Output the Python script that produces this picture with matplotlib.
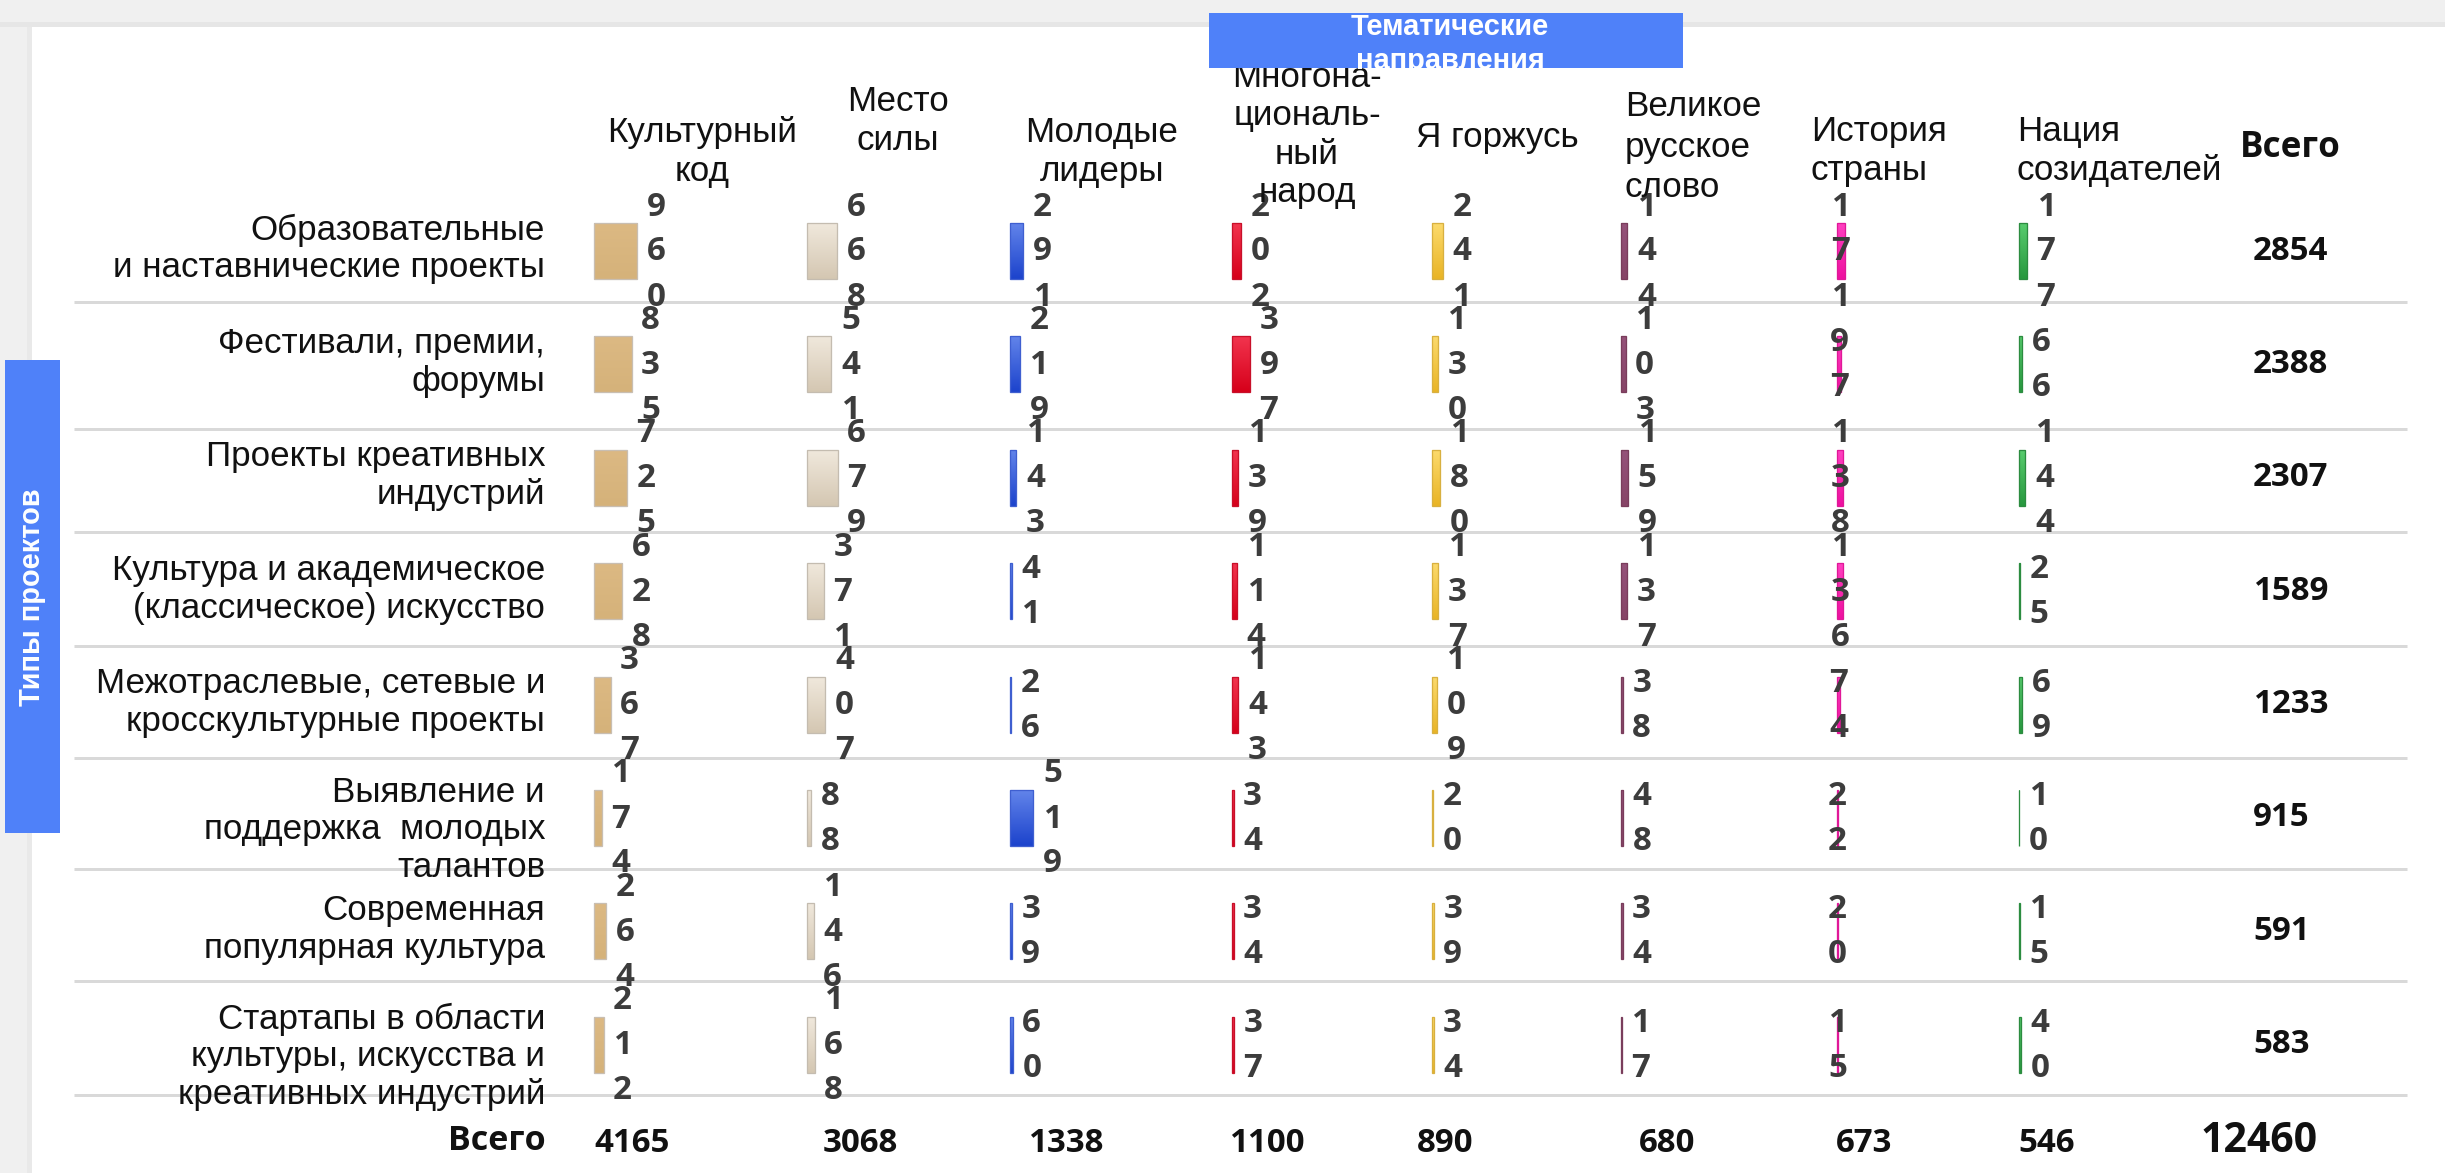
import matplotlib
matplotlib.use("Agg")
import matplotlib.pyplot as plt
import numpy as np
from matplotlib.patches import Rectangle
from matplotlib.colors import LinearSegmentedColormap

# ---------------- data ----------------
themes = ["Культурный\nкод", "Место\nсилы", "Молодые\nлидеры",
          "Многона-\nциональ-\nный\nнарод", "Я горжусь",
          "Великое\nрусское\nслово", "История\nстраны", "Нация\nсозидателей"]
project_types = ["Образовательные\nи наставнические проекты",
                 "Фестивали, премии,\nфорумы",
                 "Проекты креативных\nиндустрий",
                 "Культура и академическое\n(классическое) искусство",
                 "Межотраслевые, сетевые и\nкросскультурные проекты",
                 "Выявление и\nподдержка  молодых\nталантов",
                 "Современная\nпопулярная культура",
                 "Стартапы в области\nкультуры, искусства и\nкреативных индустрий"]
kultura_kod = [960, 835, 725, 628, 367, 174, 264, 212]
mesto_sily = [668, 541, 679, 371, 407, 88, 146, 168]
molodye_lidery = [291, 219, 143, 41, 26, 519, 39, 60]
mnogonac_narod = [202, 397, 139, 114, 143, 34, 34, 37]
ya_gorzhus = [241, 130, 180, 137, 109, 20, 39, 34]
velikoe_slovo = [144, 103, 159, 137, 38, 48, 34, 17]
istoriya_strany = [171, 97, 138, 136, 74, 22, 20, 15]
naciya_sozid = [177, 66, 144, 25, 69, 10, 15, 40]
row_totals = [2854, 2388, 2307, 1589, 1233, 915, 591, 583]
col_totals = [4165, 3068, 1338, 1100, 890, 680, 673, 546]
grand_total = 12460
columns = [kultura_kod, mesto_sily, molodye_lidery, mnogonac_narod,
           ya_gorzhus, velikoe_slovo, istoriya_strany, naciya_sozid]

# ---------------- layout / style ----------------
W, H = 2445, 1173
PT = 0.72  # px -> pt at dpi 100
fig = plt.figure(figsize=(W / 100, H / 100), dpi=100)
fig.patch.set_facecolor("#f0f0f0")
ax = fig.add_axes([0, 0, 1, 1])
ax.axis("off")

row_y0, row_pitch = 251, 113.4
row_y = [row_y0 + i * row_pitch for i in range(len(project_types))]
sep_y = [302, 429, 532, 646, 758, 869, 981, 1095]
col_left = [594, 807, 1010, 1232, 1432, 1621, 1837, 2019]
SCALE = 0.045
BAR_H = 56
grads = [("#dcb983", "#d5b27a"), ("#f0e8dc", "#d4c7b2"), ("#6284ea", "#1c43cc"),
         ("#f2344e", "#d6001a"), ("#fcda6c", "#e9b425"), ("#95527a", "#874567"),
         ("#ff40c0", "#ee10a0"), ("#58cc6e", "#27983e")]
edges = ["#c8beb2", "#c4bcb0", "#3f5fd0", "#c8102a", "#d8b040", "#7a3d5c",
         "#e01898", "#2c8c40"]

LABEL_FONT = ["Liberation Sans", "DejaVu Sans"]
NUM_FONT = ["Open Sans", "DejaVu Sans"]

# panel
ax.add_patch(Rectangle((32, 27), W, H, fc="white", ec="none", zorder=0))
ax.add_patch(Rectangle((0, 22), W, 5, fc="#e6e6e6", ec="none", zorder=0))
ax.add_patch(Rectangle((27, 27), 5, H, fc="#e9e9e9", ec="none", zorder=0))

# separators
for y in sep_y:
    ax.plot([74, 2407], [y, y], color="#d9d9d9", lw=3 * PT, zorder=1,
            solid_capstyle="butt")

grad = np.linspace(0, 1, 64).reshape(-1, 1)
for j, vals in enumerate(columns):
    cmap = LinearSegmentedColormap.from_list(f"g{j}", grads[j])
    widths = np.array(vals) * SCALE
    bars = ax.barh(row_y, widths, left=col_left[j], height=BAR_H,
                   facecolor="none", edgecolor=edges[j], linewidth=1.3 * PT,
                   zorder=4)
    for b, v in zip(bars, vals):
        x0, y0, w, h = b.get_x(), b.get_y(), b.get_width(), b.get_height()
        im = ax.imshow(grad, cmap=cmap, extent=(x0, x0 + w, y0 + h, y0),
                       aspect="auto", origin="upper", zorder=3,
                       interpolation="bilinear")
        im.set_clip_path(b)
        s = str(v)
        n = len(s)
        if j == 6:
            xt = x0 + w / 2
        else:
            xt = x0 + w + 19
        for k, ch in enumerate(s):
            ax.text(xt, b.get_y() + h / 2 + (k - (n - 1) / 2) * 45 + 1, ch,
                    ha="center", va="center", fontsize=33 * PT,
                    fontweight="bold", color="#3c3c3c", family=NUM_FONT,
                    zorder=5)

# row labels
for i, lab in enumerate(project_types):
    nl = lab.count("\n") + 1
    ax.text(545, row_y[i] - 2 + (14 if nl == 3 else 0), lab, ha="right",
            va="center", fontsize=35 * PT, color="#111111", family=LABEL_FONT,
            linespacing=1.18, zorder=5)

# column headers
hdr = [(702, 152, "center", 1.2), (898, 121, "center", 1.2),
       (1102, 152, "center", 1.2), (1307, 135, "center", 1.2),
       (1497, 138, "center", 1.2), (1625, 147, "left", 1.3),
       (1811, 151, "left", 1.22), (2017, 151, "left", 1.22)]
for (x, y, ha, ls), t in zip(hdr, themes):
    ax.text(x, y, t, ha=ha, va="center", multialignment=ha,
            fontsize=35 * PT, color="#111111", family=LABEL_FONT,
            linespacing=ls, zorder=5)
ax.text(2290, 148, "Всего", ha="center", va="center", fontsize=35 * PT,
        fontweight="bold", color="#111111", family=NUM_FONT, zorder=5)

# row totals
for i, t in enumerate(row_totals):
    ax.text(2253, row_y[i], str(t), ha="left", va="center", fontsize=33 * PT,
            fontweight="bold", color="#111111", family=NUM_FONT, zorder=5)

# bottom totals
tot_x = [632, 860, 1066, 1267, 1445, 1667, 1864, 2047]
for x, t in zip(tot_x, col_totals):
    ax.text(x, 1143, str(t), ha="center", va="center", fontsize=33 * PT,
            fontweight="bold", color="#111111", family=NUM_FONT, zorder=5)
ax.text(2259, 1141, str(grand_total), ha="center", va="center",
        fontsize=41 * PT, fontweight="bold", color="#111111", family=NUM_FONT,
        zorder=5)
ax.text(546, 1141, "Всего", ha="right", va="center", fontsize=34 * PT,
        fontweight="bold", color="#111111", family=NUM_FONT, zorder=5)

# top blue box
top_box = Rectangle((1209, 13), 474, 55, fc="#4f81f9", ec="none", zorder=6)
ax.add_patch(top_box)
tt = ax.text(1450, 44, "Тематические\nнаправления", ha="center", va="center",
             fontsize=29 * PT, fontweight="bold", color="white",
             family=LABEL_FONT, linespacing=1.3, zorder=7)
tt.set_clip_path(top_box)

# left blue box
ax.add_patch(Rectangle((5, 360), 55, 473, fc="#4f81f9", ec="none", zorder=6))
ax.text(32, 597, "Типы проектов", ha="center", va="center", rotation=90,
        fontsize=29 * PT, fontweight="bold", color="white", family=LABEL_FONT,
        zorder=7)

ax.set_xlim(0, W)
ax.set_ylim(H, 0)
fig.savefig("out.png", dpi=100, facecolor=fig.get_facecolor())
